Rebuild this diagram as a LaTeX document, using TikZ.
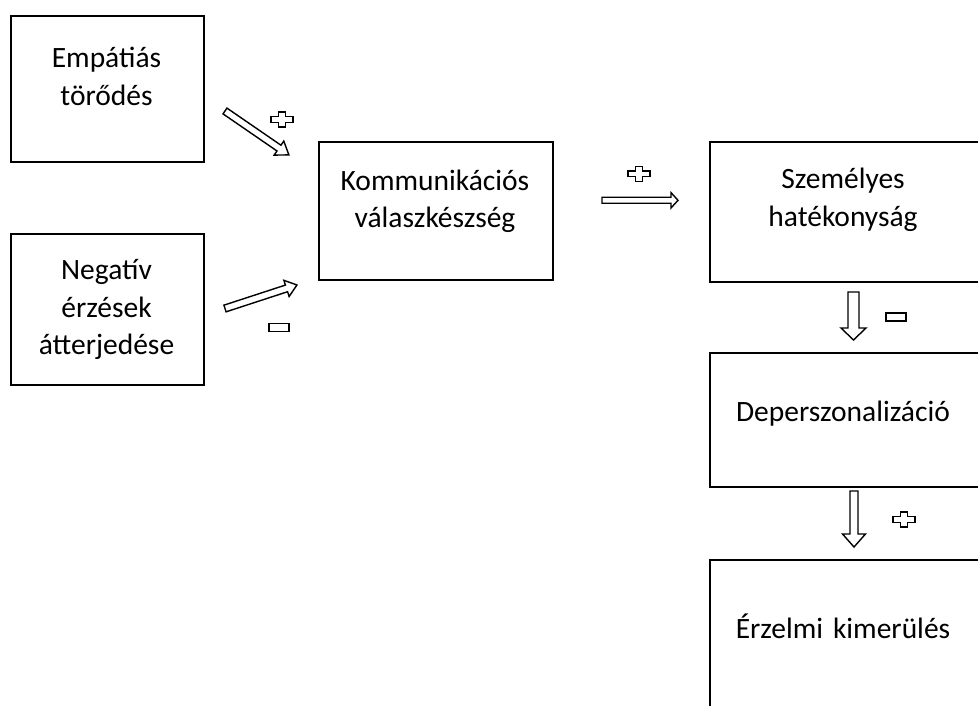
\documentclass[tikz,border=0pt]{standalone}
\usepackage{fontspec}
\setmainfont{Carlito}
\begin{document}
\begin{tikzpicture}[x=1pt, y=-1pt,
  box/.style={draw=black, line width=2pt, fill=white, inner sep=0pt, anchor=north west},
  lbl/.style={font=\fontsize{29.5}{38}\selectfont, align=center, text width=300pt, inner sep=0pt, anchor=base},
  sign/.style={draw=black, line width=1.4pt, line join=miter},
  minusbox/.style={sign, rectangle, inner sep=0pt, minimum width=20pt, minimum height=8pt},
  pics/blockarrow/.style n args={4}{code={
    \draw[sign] (0,-#2) -- ({#1-#4},-#2) -- ({#1-#4},-#3) -- (#1,0)
      -- ({#1-#4},#3) -- ({#1-#4},#2) -- (0,#2) -- cycle;}},
  pics/plussign/.style={code={
    \draw[sign] (-11,-2.8) -- (-3.5,-2.8) -- (-3.5,-7.5) -- (3.5,-7.5) -- (3.5,-2.8)
      -- (11,-2.8) -- (11,2.8) -- (3.5,2.8) -- (3.5,7.5) -- (-3.5,7.5) -- (-3.5,2.8)
      -- (-11,2.8) -- cycle;}},
]
\useasboundingbox (0,0) rectangle (978,706);

% boxes
\node[box, minimum width=193pt, minimum height=146pt] (emp) at (10,15) {};
\node[box, minimum width=193pt, minimum height=151pt] (neg) at (10,233) {};
\node[box, minimum width=234pt, minimum height=138pt] (kom) at (318,141) {};
\node[box, minimum width=272pt, minimum height=140pt] (sze) at (709,141) {};
\node[box, minimum width=272pt, minimum height=134pt] (dep) at (709,352) {};
\node[box, minimum width=272pt, minimum height=170pt] (erz) at (709,559) {};

% labels
\node[lbl] (tEmp) at (106.5,68) {Empátiás\\törődés};
\node[lbl] (tNeg) at (106.5,279) {Negatív\\érzések\\átterjedése};
\node[lbl] (tKom) at (435,190) {Kommunikációs\\válaszkészség};
\node[lbl] (tSze) at (843,189) {Személyes\\hatékonyság};
\node[lbl] (tDep) at (843,421) {Deperszonalizáció};
\node[lbl] (tErz) at (843,638) {Érzelmi kimerülés};

% hollow block arrows
\pic (a1) [rotate=-34.5] at (225,111) {blockarrow={77.5}{3.5}{8.5}{12}};
\pic (a2) [rotate=18.1] at (225,308.5) {blockarrow={75.7}{3.5}{8.5}{11}};
\pic (a3) at (602,200.3) {blockarrow={76}{3}{7.7}{7}};
\pic (a4) [rotate=-90] at (853.5,292) {blockarrow={48}{5.5}{12.5}{12}};
\pic (a5) [rotate=-90] at (854,491) {blockarrow={56}{4}{11.5}{13}};

% signs
\pic (p1) at (282,119.5) {plussign};
\pic (p2) at (639,174) {plussign};
\pic (p3) at (904,519.5) {plussign};
\node[minusbox] (m1) at (279,327.5) {};
\node[minusbox] (m2) at (896,317) {};
\end{tikzpicture}
\end{document}
